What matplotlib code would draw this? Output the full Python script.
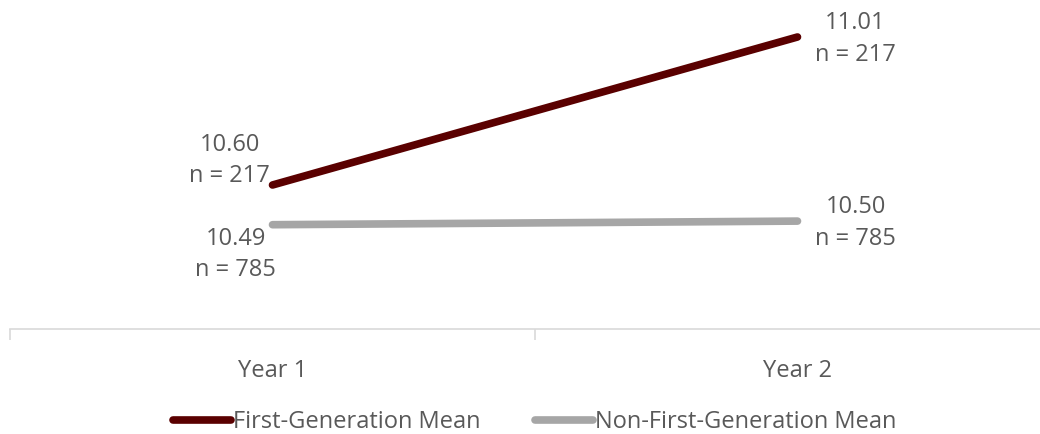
import matplotlib.pyplot as plt

plt.rcParams['font.family'] = ['Open Sans', 'DejaVu Sans']

years = ["Year 1", "Year 2"]
first_gen = [10.60, 11.01]
non_first_gen = [10.49, 10.50]
first_n = [217, 217]
non_first_n = [785, 785]

dark = "#5a0000"
grey = "#a6a6a6"
txt = "#595959"

fig = plt.figure(figsize=(10.4, 4.34), dpi=100)
ax = fig.add_axes([10/1040, (434-329.4)/434, 1050/1040, 361/434])

x = [0, 1]
ax.plot(x, first_gen, color=dark, lw=5.5, solid_capstyle="round", label="First-Generation Mean")
ax.plot(x, non_first_gen, color=grey, lw=5.5, solid_capstyle="round", label="Non-First-Generation Mean")

ax.set_xlim(-0.5, 1.5)
ax.set_ylim(10.2, 11.2)

fs = 17
ls = 1.4
# data labels
ax.annotate(f"{first_gen[0]:.2f}\nn = {first_n[0]}", (0, first_gen[0]), xytext=(-43, -3),
            textcoords="offset pixels", ha="center", va="bottom", fontsize=fs, color=txt, linespacing=ls)
ax.annotate(f"{first_gen[1]:.2f}\nn = {first_n[1]}", (1, first_gen[1]), xytext=(58, -2),
            textcoords="offset pixels", ha="center", va="center", fontsize=fs, color=txt, linespacing=ls)
ax.annotate(f"{non_first_gen[0]:.2f}\nn = {non_first_n[0]}", (0, non_first_gen[0]), xytext=(-37, -2),
            textcoords="offset pixels", ha="center", va="top", fontsize=fs, color=txt, linespacing=ls)
ax.annotate(f"{non_first_gen[1]:.2f}\nn = {non_first_n[1]}", (1, non_first_gen[1]), xytext=(58, -2),
            textcoords="offset pixels", ha="center", va="center", fontsize=fs, color=txt, linespacing=ls)

for s in ["top", "right", "left"]:
    ax.spines[s].set_visible(False)
ax.spines["bottom"].set_color("#d9d9d9")
ax.spines["bottom"].set_linewidth(1.2)
ax.set_yticks([])
ax.set_xticks(x)
ax.set_xticklabels(years, fontsize=fs, color=txt)
ax.tick_params(axis="x", length=0, pad=21)
ax.set_xticks([-0.5, 0.5, 1.5], minor=True)
ax.tick_params(axis="x", which="minor", length=8, color="#d9d9d9", width=1.2)

fig.legend(loc="center", bbox_to_anchor=(0.514, 0.027), ncol=2, frameon=False, fontsize=fs,
           labelcolor=txt, handlelength=2.45, handletextpad=0.1, columnspacing=2.3)

fig.savefig("out.png", dpi=100)
